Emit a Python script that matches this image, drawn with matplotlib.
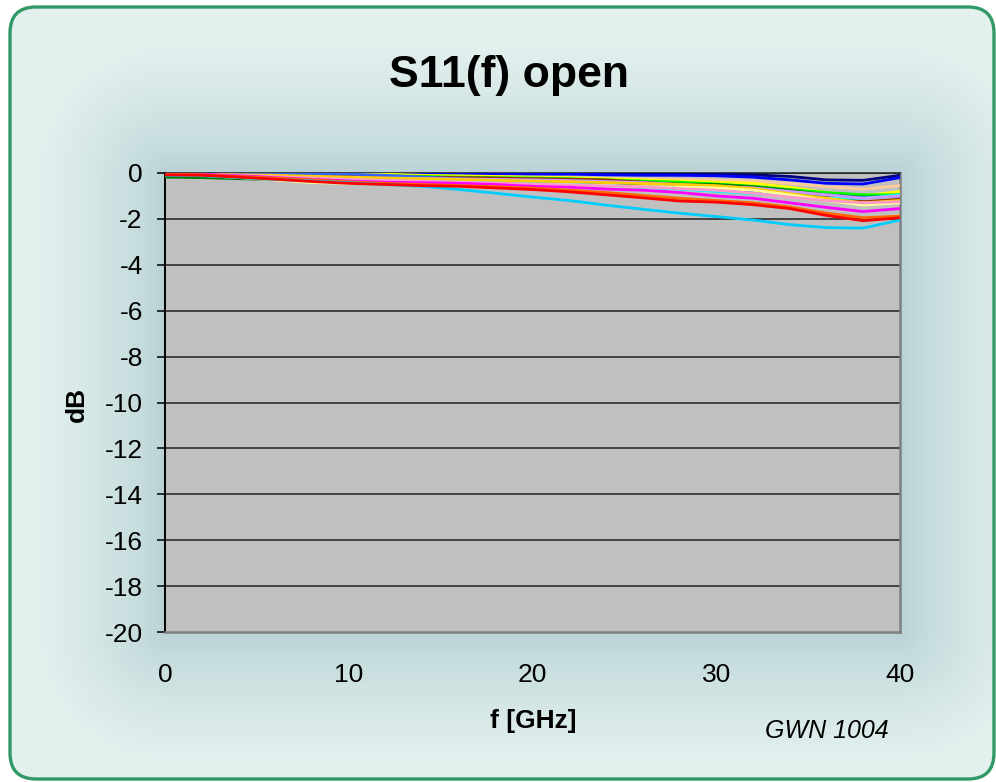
import numpy as np
import matplotlib.pyplot as plt
from matplotlib.patches import FancyBboxPatch

plt.rcParams['axes.unicode_minus'] = False

W, H = 996, 782

# frequency points [GHz]
freq = [0, 2, 4, 6, 8, 10, 12, 14, 16, 18, 20, 22, 24, 26, 28, 30, 32, 34, 36, 38, 40]

# S11 traces [dB], one per measured part
navy = [0.0, 0.0, 0.0, 0.0, 0.0, 0.0, 0.0, 0.0, 0.0, 0.0, 0.0, 0.0, -0.02, -0.03, -0.04, -0.05, -0.08, -0.15, -0.3, -0.32, -0.1]
blue = [-0.02, -0.02, -0.02, -0.02, -0.03, -0.03, -0.03, -0.03, -0.04, -0.04, -0.05, -0.05, -0.08, -0.1, -0.1, -0.12, -0.18, -0.3, -0.45, -0.48, -0.2]
peach = [-0.05, -0.05, -0.06, -0.08, -0.1, -0.12, -0.14, -0.15, -0.16, -0.18, -0.2, -0.22, -0.24, -0.26, -0.28, -0.3, -0.35, -0.45, -0.6, -0.7, -0.55]
yellow = [-0.02, -0.02, -0.05, -0.05, -0.05, -0.02, -0.05, -0.1, -0.12, -0.15, -0.18, -0.2, -0.25, -0.3, -0.35, -0.4, -0.45, -0.62, -0.85, -1.0, -0.8]
green = [-0.03, -0.03, -0.03, -0.05, -0.08, -0.1, -0.12, -0.15, -0.18, -0.2, -0.22, -0.25, -0.3, -0.35, -0.4, -0.48, -0.58, -0.72, -0.85, -0.95, -0.95]
dkgreen = [-0.18, -0.2, -0.25, -0.28, -0.3, -0.32, -0.35, -0.37, -0.4, -0.42, -0.43, -0.44, -0.45, -0.46, -0.48, -0.5, -0.6, -0.75, -0.95, -1.05, -1.0]
brown = [-0.05, -0.06, -0.08, -0.1, -0.12, -0.14, -0.16, -0.18, -0.2, -0.22, -0.25, -0.27, -0.3, -0.4, -0.5, -0.58, -0.65, -0.85, -1.05, -1.25, -1.15]
ltblue = [-0.03, -0.03, -0.03, -0.03, -0.04, -0.05, -0.1, -0.18, -0.25, -0.32, -0.4, -0.45, -0.52, -0.6, -0.68, -0.78, -0.85, -0.88, -0.95, -1.08, -1.0]
aqua = [-0.05, -0.06, -0.1, -0.14, -0.18, -0.22, -0.26, -0.3, -0.35, -0.4, -0.45, -0.5, -0.55, -0.62, -0.7, -0.8, -0.9, -1.0, -1.1, -1.1, -0.95]
lavender = [-0.05, -0.08, -0.1, -0.14, -0.18, -0.2, -0.22, -0.24, -0.26, -0.28, -0.3, -0.33, -0.37, -0.42, -0.5, -0.58, -0.65, -0.8, -0.95, -1.1, -1.0]
gold = [-0.05, -0.06, -0.08, -0.1, -0.14, -0.18, -0.22, -0.25, -0.28, -0.32, -0.35, -0.38, -0.42, -0.46, -0.5, -0.55, -0.68, -0.9, -1.1, -1.3, -1.2]
ltyellow = [-0.05, -0.1, -0.2, -0.3, -0.42, -0.45, -0.45, -0.45, -0.45, -0.48, -0.5, -0.52, -0.55, -0.6, -0.62, -0.65, -0.75, -0.95, -1.2, -1.4, -1.3]
pink = [-0.05, -0.06, -0.1, -0.16, -0.22, -0.28, -0.32, -0.36, -0.4, -0.44, -0.48, -0.52, -0.56, -0.6, -0.68, -0.75, -0.88, -1.05, -1.2, -1.3, -1.25]
magenta = [-0.05, -0.05, -0.12, -0.2, -0.28, -0.35, -0.4, -0.42, -0.45, -0.5, -0.58, -0.62, -0.7, -0.75, -0.85, -1.0, -1.1, -1.3, -1.5, -1.68, -1.55]
orange = [-0.05, -0.08, -0.15, -0.22, -0.3, -0.38, -0.45, -0.5, -0.55, -0.6, -0.66, -0.75, -0.85, -0.98, -1.1, -1.2, -1.3, -1.48, -1.75, -1.95, -1.88]
cyan = [-0.1, -0.12, -0.2, -0.28, -0.35, -0.42, -0.5, -0.58, -0.72, -0.88, -1.05, -1.2, -1.4, -1.58, -1.75, -1.9, -2.05, -2.25, -2.38, -2.4, -2.05]
red = [-0.08, -0.1, -0.18, -0.27, -0.37, -0.45, -0.5, -0.55, -0.58, -0.65, -0.72, -0.82, -0.95, -1.08, -1.22, -1.27, -1.38, -1.55, -1.85, -2.08, -1.95]

traces = [
    (navy, '#000080'), (blue, '#0000FF'), (peach, '#FFCC99'), (yellow, '#FFFF00'),
    (green, '#00FF00'), (dkgreen, '#008000'), (brown, '#993300'), (ltblue, '#3366FF'),
    (aqua, '#00FFFF'), (lavender, '#CC99FF'), (gold, '#FFCC00'), (ltyellow, '#FFFF99'),
    (pink, '#FF99CC'), (magenta, '#FF00FF'), (orange, '#FF6600'), (cyan, '#00CCFF'),
    (red, '#FF0000'),
]

fig = plt.figure(figsize=(W / 100, H / 100), dpi=100)
fig.patch.set_facecolor('white')

# plot area in pixels (left, top, right, bottom)
pl, pt, pr, pb = 165, 173, 900, 632

# --- chart area: rounded frame with a soft shade around the plot ---
bg = fig.add_axes([0, 0, 1, 1])
bg.set_xlim(0, W)
bg.set_ylim(H, 0)
bg.axis('off')

yy, xx = np.mgrid[0:H, 0:W]
dx = np.maximum(np.maximum(pl - xx, xx - pr), 0)
dy = np.maximum(np.maximum(pt - yy, yy - pb), 0)
d = np.hypot(dx, dy)
t = np.clip(d / 130.0, 0, 1) ** 0.7
dark = np.array([0.72, 0.82, 0.835])
light = np.array([0.89, 0.945, 0.935])
img = dark[None, None, :] + (light - dark)[None, None, :] * t[:, :, None]

frame = FancyBboxPatch((10, 7), 984, 772, boxstyle='round,pad=0,rounding_size=26',
                       facecolor='none', edgecolor='#339966', linewidth=2.4, zorder=3)
bg.add_patch(frame)
im = bg.imshow(img, extent=(0, W, H, 0), interpolation='bilinear', zorder=1)
im.set_clip_path(frame)

# --- plot ---
ax = fig.add_axes([pl / W, 1 - pb / H, (pr - pl) / W, (pb - pt) / H])
ax.set_facecolor('#C0C0C0')

for vals, col in traces:
    ax.plot(freq, vals, color=col, lw=2.0, zorder=3)

ax.set_xlim(0, 40)
ax.set_ylim(-20, 0)
ax.set_xticks([0, 10, 20, 30, 40])
ax.set_yticks(range(-20, 1, 2))
for yv in range(-18, 1, 2):
    ax.axhline(yv, color='#202020', lw=1.1, zorder=2)

font = 'Liberation Sans'
ax.tick_params(axis='x', length=0, pad=22, labelsize=19)
ax.tick_params(axis='y', length=6, width=1.1, pad=10, labelsize=19, direction='out')
for lab in ax.get_xticklabels() + ax.get_yticklabels():
    lab.set_fontfamily(font)

ax.spines['left'].set_color('#000000')
ax.spines['left'].set_linewidth(1.4)
ax.spines['top'].set_color('#202020')
ax.spines['top'].set_linewidth(1.1)
ax.spines['right'].set_color('#808080')
ax.spines['right'].set_linewidth(1.8)
ax.spines['bottom'].set_color('#808080')
ax.spines['bottom'].set_linewidth(1.8)

fig.text(509 / W, 1 - 76 / H, 'S11(f) open', ha='center', va='center',
         fontsize=32, fontweight='bold', family=font)
fig.text(77 / W, 1 - 404 / H, 'dB', ha='center', va='center', rotation=90,
         fontsize=19, fontweight='bold', family=font)
fig.text(533 / W, 1 - 721 / H, 'f [GHz]', ha='center', va='center',
         fontsize=19, fontweight='bold', family=font)
fig.text(827 / W, 1 - 731 / H, 'GWN 1004', ha='center', va='center',
         fontsize=18, style='italic', family=font)

fig.savefig('out.png', dpi=100, facecolor=fig.get_facecolor())
